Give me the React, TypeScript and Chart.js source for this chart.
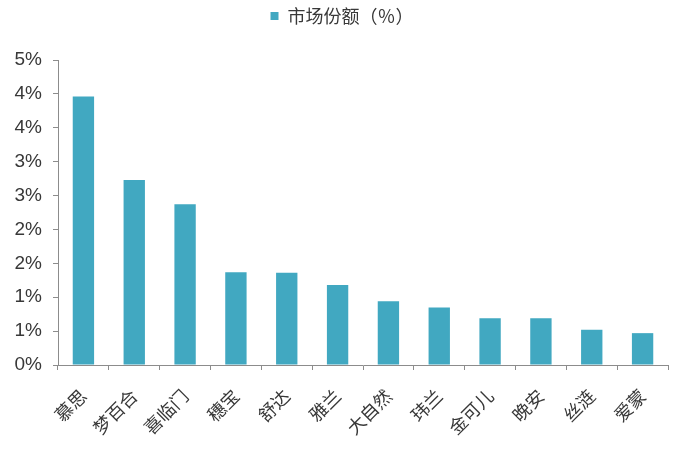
import React, { useEffect, useRef } from "react";
import { Chart, registerables } from "chart.js";

Chart.register(...registerables);

const categories = ["慕思", "梦百合", "喜临门", "穗宝", "舒达", "雅兰", "大自然", "玮兰", "金可儿", "晚安", "丝涟", "爱蒙"];
const marketShare = [3.96, 2.73, 2.37, 1.37, 1.36, 1.18, 0.94, 0.85, 0.69, 0.69, 0.52, 0.47];
const yTickLabels = ["0%", "1%", "1%", "2%", "2%", "3%", "3%", "4%", "4%", "5%"];
const seriesLabel = "市场份额（％）";

const BAR_COLOR = "#41A8C1";
const AXIS_COLOR = "#8c8c8c";
const TEXT_COLOR = "#383838";

const legendTweak = {
  id: "legendTweak",
  afterInit(chart: any) {
    const lg = chart.legend;
    if (!lg) return;
    const origFit = lg.fit;
    lg.fit = function () {
      origFit.call(this);
      this.height = 60;
    };
    const origDraw = lg.draw;
    lg.draw = function () {
      const ctx = this.ctx;
      ctx.save();
      ctx.translate(8, 0);
      origDraw.call(this);
      ctx.restore();
    };
  },
};

export default function App() {
  const ref = useRef<HTMLCanvasElement | null>(null);
  useEffect(() => {
    if (!ref.current) return;
    const chart = new Chart(ref.current, {
      type: "bar",
      data: {
        labels: categories,
        datasets: [
          {
            label: seriesLabel,
            data: marketShare,
            backgroundColor: BAR_COLOR,
            borderWidth: 0,
            barPercentage: 0.42,
            categoryPercentage: 1,
          },
        ],
      },
      plugins: [legendTweak],
      options: {
        responsive: false,
        animation: false,
        layout: { padding: { top: 0, right: 7, bottom: 0, left: 0 } },
        plugins: {
          legend: {
            display: true,
            position: "top",
            labels: {
              boxWidth: 8,
              boxHeight: 8,
              color: TEXT_COLOR,
              padding: 7,
              font: { size: 18, family: "'Noto Sans CJK SC', sans-serif" },
            },
          },
          tooltip: { enabled: false },
        },
        scales: {
          x: {
            offset: true,
            grid: {
              display: true,
              drawOnChartArea: false,
              drawTicks: true,
              tickLength: 5,
              color: AXIS_COLOR,
              offset: true,
            },
            border: { display: true, color: AXIS_COLOR, width: 1 },
            ticks: {
              color: TEXT_COLOR,
              minRotation: 45,
              maxRotation: 45,
              autoSkip: false,
              padding: 15,
              font: { size: 18, family: "'Noto Sans CJK SC', sans-serif" },
            },
            afterFit(scale: any) {
              scale.height = 85;
            },
          },
          y: {
            min: 0,
            max: 4.5,
            grid: {
              display: true,
              drawOnChartArea: false,
              drawTicks: true,
              tickLength: 5,
              color: AXIS_COLOR,
            },
            border: { display: true, color: AXIS_COLOR, width: 1 },
            ticks: {
              stepSize: 0.5,
              color: TEXT_COLOR,
              padding: 11,
              font: { size: 19, family: "'Liberation Sans', Arial, sans-serif" },
              callback: (_v: any, i: number) => yTickLabels[i],
            },
            afterFit(scale: any) {
              scale.width = 58;
            },
          },
        },
      },
    });
    return () => chart.destroy();
  }, []);
  return (
    <div style={{ position: "fixed", left: 0, top: 0, width: 675, height: 450, background: "#fff" }}>
      <canvas ref={ref} width={675} height={450} style={{ width: 675, height: 450, display: "block" }} />
    </div>
  );
}
